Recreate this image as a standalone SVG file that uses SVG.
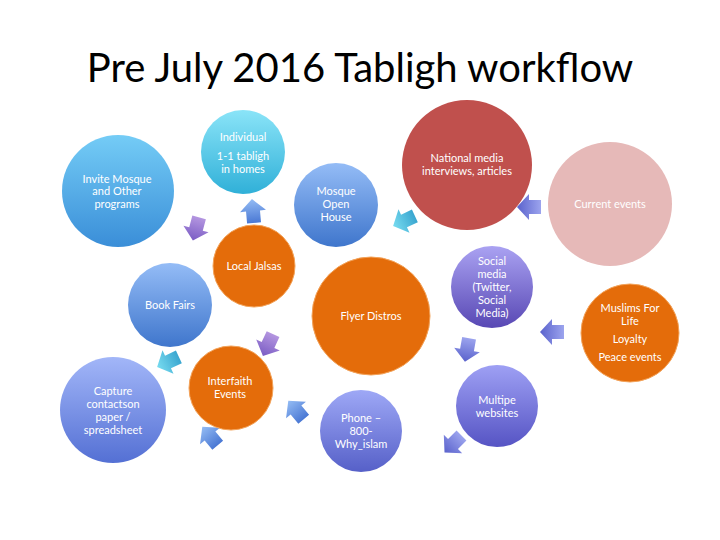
<svg xmlns="http://www.w3.org/2000/svg" width="720" height="540" viewBox="0 0 720 540">
<style>
  .t{font-family:Lato,"Open Sans","Liberation Sans",sans-serif;font-size:11px;fill:#ffffff;text-anchor:middle}
  .title{font-family:Lato,"Open Sans","Liberation Sans",sans-serif;font-size:40px;fill:#000000;text-anchor:middle}
  .or{fill:#e46c0a;stroke:#f3a35a;stroke-width:1}
</style>
<defs>
  <linearGradient id="gInvite" x1="0" y1="0" x2="0" y2="1"><stop offset="0" stop-color="#74ccf6"/><stop offset="1" stop-color="#3a8ed8"/></linearGradient>
  <linearGradient id="gInd" x1="0" y1="0" x2="0" y2="1"><stop offset="0" stop-color="#8ae4f8"/><stop offset="1" stop-color="#30b0d8"/></linearGradient>
  <linearGradient id="gBlue" x1="0" y1="0" x2="0" y2="1"><stop offset="0" stop-color="#94bcf6"/><stop offset="1" stop-color="#3f76cc"/></linearGradient>
  <linearGradient id="gPeri" x1="0" y1="0" x2="0" y2="1"><stop offset="0" stop-color="#a2b6f8"/><stop offset="1" stop-color="#5470d4"/></linearGradient>
  <linearGradient id="gPurp" x1="0" y1="0" x2="0" y2="1"><stop offset="0" stop-color="#aaa2f2"/><stop offset="1" stop-color="#5848b4"/></linearGradient>
  <linearGradient id="gPhone" x1="0" y1="0" x2="0" y2="1"><stop offset="0" stop-color="#9ea8f6"/><stop offset="1" stop-color="#5660c8"/></linearGradient>
  <linearGradient id="gWeb" x1="0" y1="0" x2="0" y2="1"><stop offset="0" stop-color="#9ea0f4"/><stop offset="1" stop-color="#5654c4"/></linearGradient>
  <linearGradient id="aPurp" x1="0" y1="0" x2="1" y2="0"><stop offset="0" stop-color="#b496e0"/><stop offset="1" stop-color="#7a5cc4"/></linearGradient>
  <linearGradient id="aBlue" x1="0" y1="0" x2="1" y2="0"><stop offset="0" stop-color="#4a78d4"/><stop offset="1" stop-color="#94bcf4"/></linearGradient>
  <linearGradient id="aCyan" x1="0" y1="0" x2="1" y2="0"><stop offset="0" stop-color="#3aa6d0"/><stop offset="1" stop-color="#78dcf0"/></linearGradient>
  <linearGradient id="aPB" x1="0" y1="0" x2="1" y2="0"><stop offset="0" stop-color="#9ca4ee"/><stop offset="1" stop-color="#5a62cc"/></linearGradient>
  <path id="arr" d="M-12,-7 L0,-7 L0,-13 L12,0 L0,13 L0,7 L-12,7 Z"/>
</defs>
<rect width="720" height="540" fill="#ffffff"/>
<text class="title" x="360" y="82">Pre July 2016 Tabligh workflow</text>

<g id="connectors">
  <use href="#arr" fill="url(#aPurp)" transform="translate(196,229) rotate(105)"/>
  <use href="#arr" fill="url(#aBlue)" transform="translate(253,211) rotate(-95)"/>
  <use href="#arr" fill="url(#aCyan)" transform="translate(404,221) rotate(155)"/>
  <use href="#arr" fill="url(#aPB)" transform="translate(529,207) rotate(180)"/>
  <use href="#arr" fill="url(#aCyan)" transform="translate(168,362) rotate(155)"/>
  <use href="#arr" fill="url(#aPurp)" transform="translate(268,345) rotate(115)"/>
  <use href="#arr" fill="url(#aBlue)" transform="translate(210,436) rotate(-130)"/>
  <use href="#arr" fill="url(#aBlue)" transform="translate(296,410) rotate(-130)"/>
  <use href="#arr" fill="url(#aPB)" transform="translate(467,350) rotate(100)"/>
  <use href="#arr" fill="url(#aPB)" transform="translate(552,332) rotate(180)"/>
  <use href="#arr" fill="url(#aPB)" transform="translate(453,444) rotate(135)"/>
</g>

<g id="invite">
  <circle cx="118" cy="191" r="56" fill="url(#gInvite)"/>
  <text class="t" x="117" y="183">Invite Mosque</text>
  <text class="t" x="117" y="195">and Other</text>
  <text class="t" x="117" y="208">programs</text>
</g>
<g id="individual">
  <circle cx="243" cy="152" r="42" fill="url(#gInd)"/>
  <text class="t" x="243" y="141">Individual</text>
  <text class="t" x="243" y="160">1-1 tabligh</text>
  <text class="t" x="243" y="173">in homes</text>
</g>
<g id="openhouse">
  <circle cx="336" cy="205" r="42" fill="url(#gBlue)"/>
  <text class="t" x="336" y="195">Mosque</text>
  <text class="t" x="336" y="208">Open</text>
  <text class="t" x="336" y="221">House</text>
</g>
<g id="national">
  <circle cx="467" cy="165" r="65" fill="#c0504d"/>
  <text class="t" x="467" y="162">National media</text>
  <text class="t" x="467" y="175">interviews, articles</text>
</g>
<g id="current">
  <circle cx="610" cy="204" r="62" fill="#e6b9b8"/>
  <text class="t" x="610" y="208">Current events</text>
</g>
<g id="jalsas">
  <circle class="or" cx="254" cy="266" r="41"/>
  <text class="t" x="254" y="270">Local Jalsas</text>
</g>
<g id="bookfairs">
  <circle cx="170" cy="305" r="42" fill="url(#gBlue)"/>
  <text class="t" x="170" y="309">Book Fairs</text>
</g>
<g id="flyer">
  <circle class="or" cx="371" cy="316" r="59"/>
  <text class="t" x="371" y="320">Flyer Distros</text>
</g>
<g id="social">
  <circle cx="492" cy="287" r="41" fill="url(#gPurp)"/>
  <text class="t" x="492" y="265">Social</text>
  <text class="t" x="492" y="278">media</text>
  <text class="t" x="492" y="291">(Twitter,</text>
  <text class="t" x="492" y="304">Social</text>
  <text class="t" x="492" y="317">Media)</text>
</g>
<g id="mfl">
  <circle class="or" cx="630" cy="333" r="49"/>
  <text class="t" x="630" y="312">Muslims For</text>
  <text class="t" x="630" y="325">Life</text>
  <text class="t" x="630" y="343">Loyalty</text>
  <text class="t" x="630" y="361">Peace events</text>
</g>
<g id="capture">
  <circle cx="113" cy="410" r="53" fill="url(#gPeri)"/>
  <text class="t" x="113" y="395">Capture</text>
  <text class="t" x="113" y="408">contactson</text>
  <text class="t" x="113" y="421">paper /</text>
  <text class="t" x="113" y="434">spreadsheet</text>
</g>
<g id="interfaith">
  <circle class="or" cx="231" cy="388" r="42"/>
  <text class="t" x="230" y="385">Interfaith</text>
  <text class="t" x="230" y="398">Events</text>
</g>
<g id="phone">
  <circle cx="361" cy="431" r="41" fill="url(#gPhone)"/>
  <text class="t" x="361" y="422">Phone –</text>
  <text class="t" x="361" y="435">800-</text>
  <text class="t" x="361" y="448">Why_islam</text>
</g>
<g id="websites">
  <circle cx="497" cy="406" r="41" fill="url(#gWeb)"/>
  <text class="t" x="497" y="404">Multipe</text>
  <text class="t" x="497" y="417">websites</text>
</g>
</svg>
